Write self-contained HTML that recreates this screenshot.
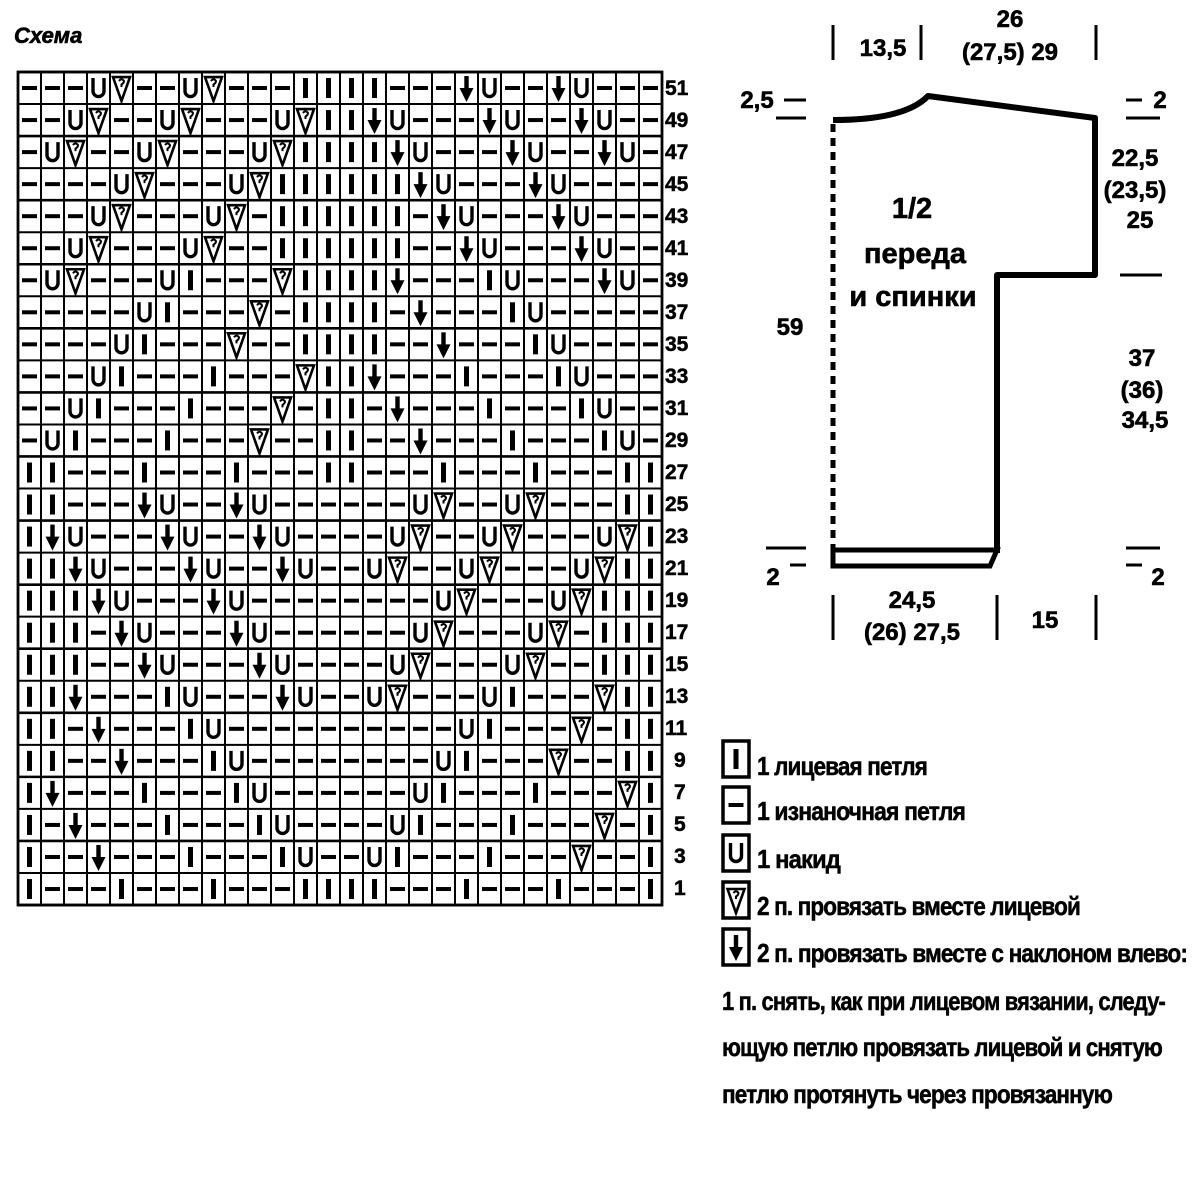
<!DOCTYPE html>
<html><head><meta charset="utf-8"><style>
html,body{margin:0;padding:0;background:#fff}
svg{display:block}
.b{font-family:"Liberation Sans",sans-serif;font-weight:bold;fill:#000;stroke:#000;stroke-width:0.6}
.n{font-family:"Liberation Sans Narrow","Liberation Sans",sans-serif;font-weight:bold;fill:#000;stroke:#000;stroke-width:0.5}
</style></head><body>
<svg id="s" width="1200" height="1200" viewBox="0 0 1200 1200" xmlns="http://www.w3.org/2000/svg">
<rect width="1200" height="1200" fill="#fff"/>
<text x="14" y="43" class="b" font-size="22" font-style="italic">Схема</text>
<g id="grid"></g>
<g class="n" font-size="21">
<text x="665" y="95">51</text><text x="665" y="127">49</text><text x="665" y="159">47</text><text x="665" y="191">45</text><text x="665" y="223">43</text><text x="665" y="255">41</text><text x="665" y="287">39</text><text x="665" y="319">37</text><text x="665" y="351">35</text><text x="665" y="383">33</text><text x="665" y="415">31</text><text x="665" y="447">29</text><text x="665" y="479">27</text><text x="665" y="511">25</text><text x="665" y="543">23</text><text x="665" y="575">21</text><text x="665" y="607">19</text><text x="665" y="639">17</text><text x="665" y="671">15</text><text x="665" y="703">13</text><text x="665" y="735">11</text><text x="674" y="767">9</text><text x="674" y="799">7</text><text x="674" y="831">5</text><text x="674" y="863">3</text><text x="674" y="895">1</text>
</g>
<g stroke="#000" stroke-width="3">
<line x1="833" y1="25" x2="833" y2="60"/><line x1="921" y1="25" x2="921" y2="60"/><line x1="1096" y1="25" x2="1096" y2="60"/>
<line x1="833" y1="595" x2="833" y2="640"/><line x1="997" y1="595" x2="997" y2="640"/><line x1="1096" y1="595" x2="1096" y2="640"/>
<line x1="784" y1="100" x2="806" y2="100"/><line x1="776" y1="118" x2="806" y2="118"/>
<line x1="1126" y1="100" x2="1142" y2="100"/><line x1="1126" y1="118" x2="1160" y2="118"/>
<line x1="1120" y1="275" x2="1162" y2="275"/>
<line x1="766" y1="548" x2="806" y2="548"/><line x1="790" y1="565" x2="806" y2="565"/>
<line x1="1126" y1="548" x2="1160" y2="548"/><line x1="1126" y1="565" x2="1142" y2="565"/>
</g>
<path d="M833 120 Q905 120 928 96 L1095 118 L1095 275 L997 275 L997 553" fill="none" stroke="#000" stroke-width="6" stroke-linejoin="round"/>
<line x1="833" y1="124" x2="833" y2="552" stroke="#000" stroke-width="5" stroke-dasharray="8,6"/>
<path d="M833 550 L997 550 L990 566 L833 566 Z" fill="none" stroke="#000" stroke-width="5"/>
<g class="b" font-size="24" text-anchor="middle">
<text x="883" y="56">13,5</text>
<text x="1010" y="27">26</text><text x="1010" y="60">(27,5) 29</text>
<text x="757" y="108">2,5</text>
<text x="1160" y="108">2</text>
<text x="1135" y="166">22,5</text><text x="1135" y="198">(23,5)</text><text x="1140" y="228">25</text>
<text x="790" y="335">59</text>
<text x="1142" y="366">37</text><text x="1142" y="398">(36)</text><text x="1145" y="428">34,5</text>
<text x="773" y="585">2</text><text x="1158" y="585">2</text>
<text x="912" y="608">24,5</text><text x="912" y="640">(26) 27,5</text>
<text x="1045" y="628">15</text>
</g>
<g class="b" font-size="29" text-anchor="middle">
<text x="912" y="218">1/2</text><text x="915" y="263">переда</text><text x="913" y="306">и спинки</text>
</g>
<g id="leg"></g>
<g class="n" font-size="26" letter-spacing="-1">
<text x="757" y="775" textLength="170" lengthAdjust="spacingAndGlyphs">1 лицевая петля</text>
<text x="757" y="820" textLength="208" lengthAdjust="spacingAndGlyphs">1 изнаночная петля</text>
<text x="757" y="868" textLength="83" lengthAdjust="spacingAndGlyphs">1 накид</text>
<text x="757" y="915" textLength="323" lengthAdjust="spacingAndGlyphs">2 п. провязать вместе лицевой</text>
<text x="757" y="962" textLength="430" lengthAdjust="spacingAndGlyphs">2 п. провязать вместе с наклоном влево:</text>
<text x="722" y="1010" textLength="443" lengthAdjust="spacingAndGlyphs">1 п. снять, как при лицевом вязании, следу-</text>
<text x="722" y="1056" textLength="440" lengthAdjust="spacingAndGlyphs">ющую петлю провязать лицевой и снятую</text>
<text x="722" y="1103" textLength="390" lengthAdjust="spacingAndGlyphs">петлю протянуть через провязанную</text>
</g>
</svg>
<script>
(function(){
var TL=["---UV--UV---II","--UV--UV---UVI","-UV--UV---UVII","----UV---UVIII","---UV---UV-III","--UV---UV--III","-UV---UI---VII","-----UI---V-II","----UI---V--II","---UI---I---VI","--UI---I---V-I","-UI---I---V--I","II---I---I---I"];
function mir(s){return s.split("").reverse().join("").replace(/V/g,"A");}
var rows=[];
for(var r=0;r<13;r++)rows.push(TL[r]+mir(TL[r]));
for(var r=0;r<13;r++)rows.push(mir(TL[r])+TL[r]);
var x0=18,y0=72,cw=23,ch=32.04,NC=28,NR=26;
var h="";
function sym(c,cx,cy){
 var o="";
 if(c=="-")o='<rect x="'+(cx-7.5)+'" y="'+(cy-2)+'" width="15" height="4"/>';
 else if(c=="I")o='<rect x="'+(cx-2.5)+'" y="'+(cy-10)+'" width="5" height="20"/>';
 else if(c=="U")o='<path d="M'+(cx-5.5)+' '+(cy-10)+'V'+(cy+3)+'A5.5 5.5 0 0 0 '+(cx+5.5)+' '+(cy+3)+'V'+(cy-10)+'" fill="none" stroke="#000" stroke-width="3.4"/>';
 else if(c=="V")o='<path d="M'+(cx-8.5)+' '+(cy-11)+'L'+cx+' '+(cy+13)+'L'+(cx+8.5)+' '+(cy-11)+'Z" fill="none" stroke="#000" stroke-width="2.6"/><path d="M'+(cx-2.5)+' '+(cy-7)+'q2.5 -3.5 5 0q0 2 -2.5 3.5v2.5" fill="none" stroke="#000" stroke-width="2"/>';
 else if(c=="A")o='<rect x="'+(cx-2.2)+'" y="'+(cy-12)+'" width="4.4" height="15"/><polygon points="'+(cx-7)+','+(cy)+' '+(cx+7)+','+(cy)+' '+cx+','+(cy+14)+'"/>';
 return o;
}
for(var r=0;r<NR;r++)for(var c=0;c<NC;c++){
 var cx=x0+cw*c+cw/2,cy=y0+ch*r+ch/2;h+=sym(rows[r][c],cx,cy);
}
for(var c=0;c<=NC;c++){var x=x0+cw*c;h+='<line x1="'+x+'" y1="'+y0+'" x2="'+x+'" y2="'+(y0+ch*NR)+'" stroke="#000" stroke-width="2"/>';}
for(var r=0;r<=NR;r++){var y=y0+ch*r;h+='<line x1="'+x0+'" y1="'+y+'" x2="'+(x0+cw*NC)+'" y2="'+y+'" stroke="#000" stroke-width="'+(r%2==0?2.6:2)+'"/>';}
h+='<rect x="'+x0+'" y="'+y0+'" width="'+(cw*NC)+'" height="'+(ch*NR)+'" fill="none" stroke="#000" stroke-width="2.8"/>';
document.getElementById("grid").innerHTML=h;
var L="",ls=["I","-","U","V","A"],ly=[741,787,835,882,929];
for(var i=0;i<5;i++){L+='<rect x="723" y="'+ly[i]+'" width="26" height="36" fill="none" stroke="#000" stroke-width="3.5"/>'+sym(ls[i],736,ly[i]+18);}
document.getElementById("leg").innerHTML=L;
})();
</script>
</body></html>
